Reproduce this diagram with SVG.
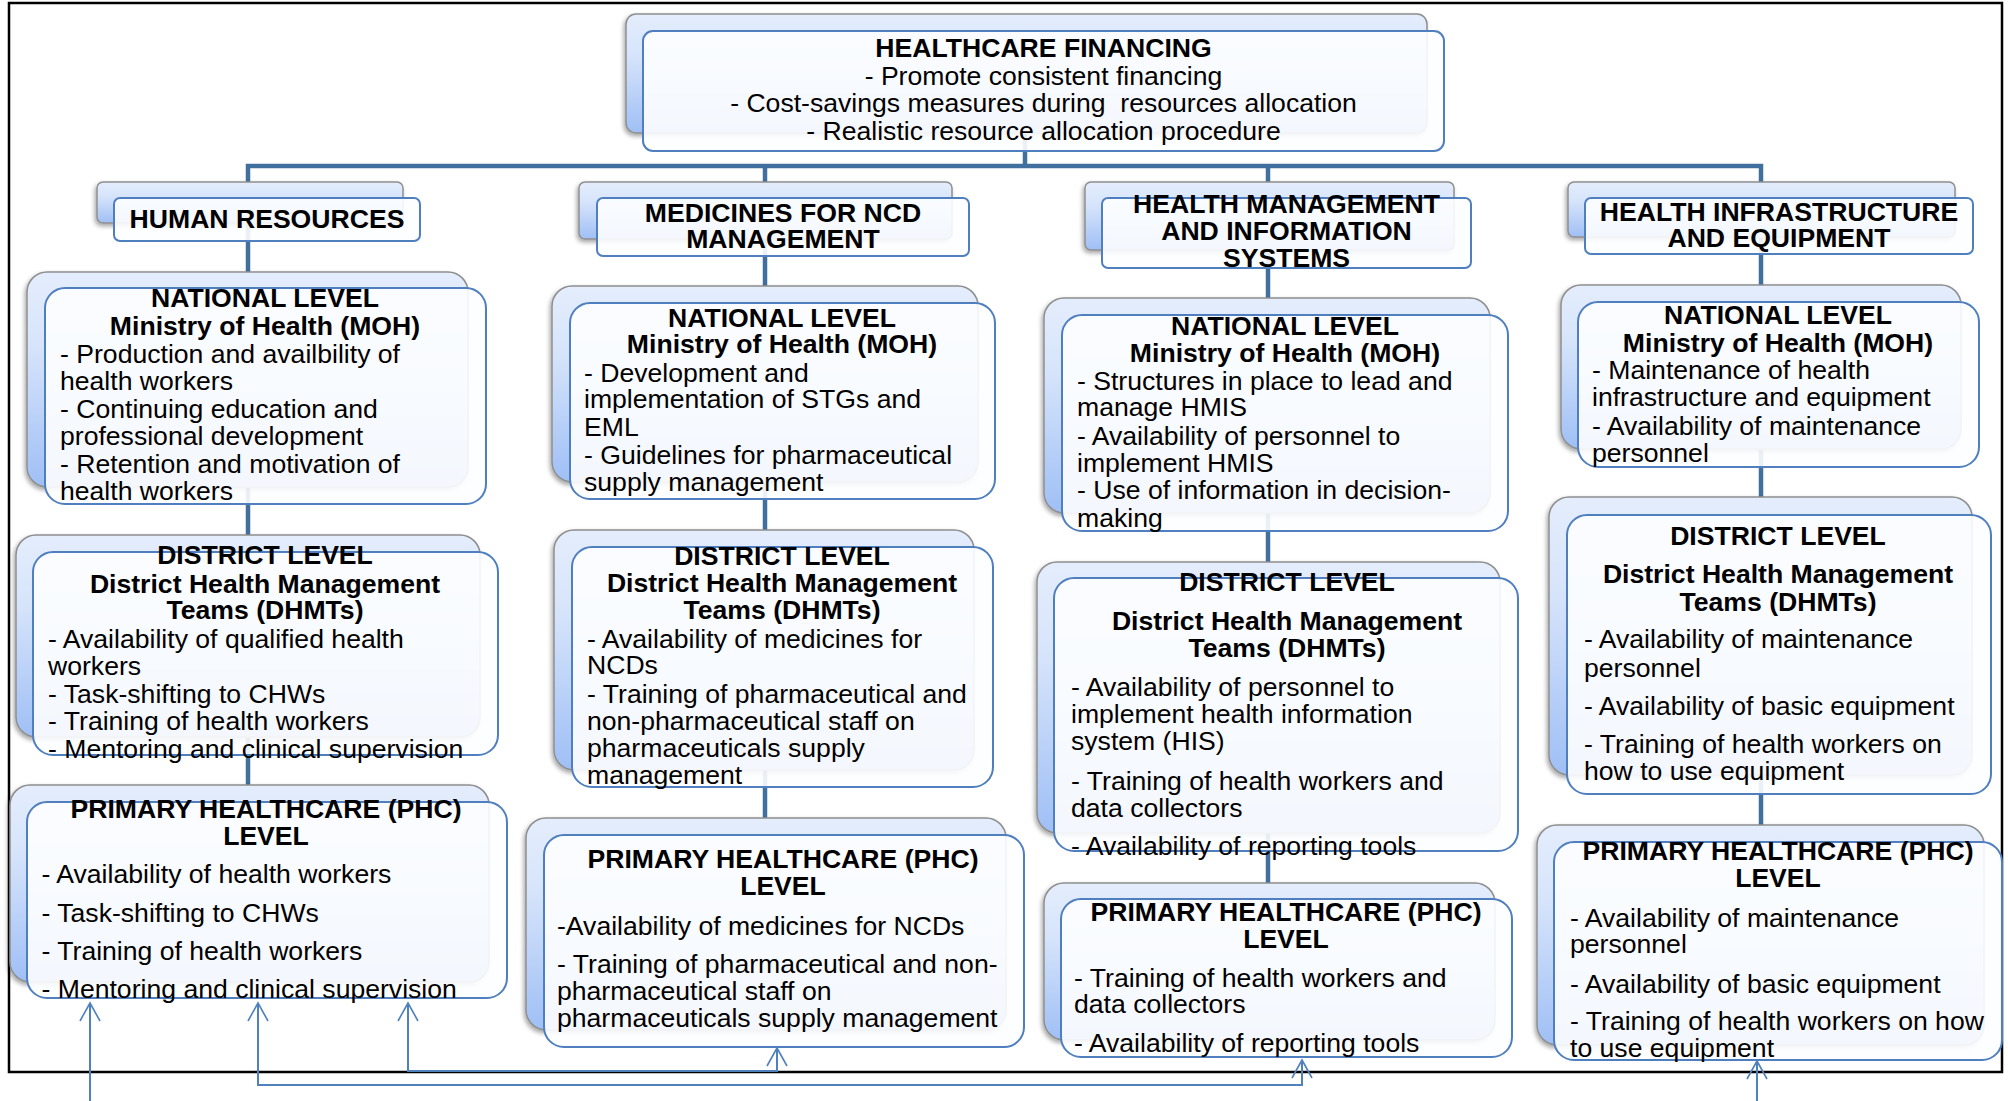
<svg xmlns="http://www.w3.org/2000/svg" width="2008" height="1101" viewBox="0 0 2008 1101">
<defs>
<linearGradient id="gb" x1="0" y1="0" x2="0" y2="1">
<stop offset="0" stop-color="#e4edfc"/>
<stop offset="0.35" stop-color="#d6e4fb"/>
<stop offset="1" stop-color="#9fbff5"/>
</linearGradient>
<filter id="sh" x="-10%" y="-10%" width="120%" height="130%">
<feDropShadow dx="-1.5" dy="2.5" stdDeviation="2" flood-color="#000" flood-opacity="0.35"/>
</filter>
<marker id="ah" markerUnits="userSpaceOnUse" viewBox="0 0 18 20" refX="18" refY="10" markerWidth="18" markerHeight="20" orient="auto-start-reverse" overflow="visible">
<path d="M0,0 L18,10 L0,20" fill="none" stroke="#4f81bd" stroke-width="1.6"/>
</marker>
</defs>
<style>
.back{fill:url(#gb);stroke:#8e8e8e;stroke-width:1.5;filter:url(#sh)}
.front{fill:#fdfeff;fill-opacity:0.9;stroke:#4f7fbf;stroke-width:2}
text{font-family:"Liberation Sans",Arial,sans-serif;font-size:26.6px;fill:#000}
.b{font-weight:bold}
.c{text-anchor:middle}
.conn{stroke:#41709f;stroke-width:4.5;fill:none}
.arr{stroke:#4f81bd;stroke-width:2;fill:none}
</style>
<rect x="0" y="0" width="2008" height="1101" fill="#fff"/>
<rect id="frame" x="9" y="3" width="1993" height="1069" fill="none" stroke="#000" stroke-width="2.5"/>

<g id="connectors">
<path class="conn" d="M1025,133 V166"/>
<path class="conn" d="M248,785 V166 H1761 V825"/>
<path class="conn" d="M765,166 V818"/>
<path class="conn" d="M1268,166 V883"/>
<path class="arr" d="M90,1101 V1003" marker-end="url(#ah)"/>
<path class="arr" d="M258,1003 V1085 H1302 V1060" marker-start="url(#ah)" marker-end="url(#ah)"/>
<path class="arr" d="M408,1003 V1071 H777 V1048" marker-start="url(#ah)" marker-end="url(#ah)"/>
<path class="arr" d="M1757,1101 V1061" marker-end="url(#ah)"/>
</g>

<g id="financing">
<rect class="back" x="626" y="14" width="801" height="119" rx="10"/>
<rect class="front" x="643" y="31" width="801" height="120" rx="10"/>
<text class="c" x="1043.5" y="57"><tspan class="b">HEALTHCARE FINANCING</tspan><tspan x="1043.5" y="84.5">- Promote consistent financing</tspan><tspan x="1043.5" y="112" style="white-space:pre">- Cost-savings measures during  resources allocation</tspan><tspan x="1043.5" y="139.5">- Realistic resource allocation procedure</tspan></text>
</g>

<g id="hr-header">
<rect class="back" x="97" y="182" width="306" height="41" rx="6"/>
<rect class="front" x="114" y="198" width="306" height="43" rx="6"/>
<text class="b c" x="267" y="228">HUMAN RESOURCES</text>
</g>
<g id="med-header">
<rect class="back" x="579" y="182" width="373" height="57" rx="6"/>
<rect class="front" x="597" y="198" width="372" height="58" rx="6"/>
<text class="b c" x="783" y="222">MEDICINES FOR NCD<tspan x="783" y="248">MANAGEMENT</tspan></text>
</g>
<g id="hmis-header">
<rect class="back" x="1085" y="182" width="369" height="68" rx="6"/>
<rect class="front" x="1102" y="198" width="369" height="70" rx="6"/>
<text class="b c" x="1286.5" y="213">HEALTH MANAGEMENT<tspan x="1286.5" y="240">AND INFORMATION</tspan><tspan x="1286.5" y="267">SYSTEMS</tspan></text>
</g>
<g id="infra-header">
<rect class="back" x="1568" y="182" width="387" height="55" rx="6"/>
<rect class="front" x="1585" y="198" width="388" height="56" rx="6"/>
<text class="b c" x="1779" y="221">HEALTH INFRASTRUCTURE<tspan x="1779" y="247">AND EQUIPMENT</tspan></text>
</g>

<g id="hr-national">
<rect class="back" x="27" y="272" width="441" height="215" rx="20"/>
<rect class="front" x="45" y="288" width="441" height="216" rx="20"/>
<text class="b c" x="265" y="307">NATIONAL LEVEL<tspan x="265" y="335">Ministry of Health (MOH)</tspan></text>
<text x="60" y="363">- Production and availbility of<tspan x="60" y="390">health workers</tspan><tspan x="60" y="418">- Continuing education and</tspan><tspan x="60" y="445">professional development</tspan><tspan x="60" y="473">- Retention and motivation of</tspan><tspan x="60" y="500">health workers</tspan></text>
</g>
<g id="med-national">
<rect class="back" x="552" y="286" width="426" height="196" rx="20"/>
<rect class="front" x="570" y="303" width="425" height="196" rx="20"/>
<text class="b c" x="782" y="327">NATIONAL LEVEL<tspan x="782" y="353">Ministry of Health (MOH)</tspan></text>
<text x="584" y="382">- Development and<tspan x="584" y="408">implementation of STGs and</tspan><tspan x="584" y="436">EML</tspan><tspan x="584" y="464">- Guidelines for pharmaceutical</tspan><tspan x="584" y="491">supply management</tspan></text>
</g>
<g id="hmis-national">
<rect class="back" x="1044" y="298" width="446" height="215" rx="20"/>
<rect class="front" x="1062" y="315" width="446" height="216" rx="20"/>
<text class="b c" x="1285" y="335">NATIONAL LEVEL<tspan x="1285" y="362">Ministry of Health (MOH)</tspan></text>
<text x="1077" y="390">- Structures in place to lead and<tspan x="1077" y="416">manage HMIS</tspan><tspan x="1077" y="445">- Availability of personnel to</tspan><tspan x="1077" y="472">implement HMIS</tspan><tspan x="1077" y="499">- Use of information in decision-</tspan><tspan x="1077" y="527">making</tspan></text>
</g>
<g id="infra-national">
<rect class="back" x="1561" y="285" width="400" height="164" rx="20"/>
<rect class="front" x="1578" y="302" width="401" height="165" rx="20"/>
<text class="b c" x="1778" y="324">NATIONAL LEVEL<tspan x="1778" y="352">Ministry of Health (MOH)</tspan></text>
<text x="1592" y="379">- Maintenance of health<tspan x="1592" y="406">infrastructure and equipment</tspan><tspan x="1592" y="435">- Availability of maintenance</tspan><tspan x="1592" y="462">personnel</tspan></text>
</g>

<g id="hr-district">
<rect class="back" x="16" y="535" width="464" height="202" rx="20"/>
<rect class="front" x="33" y="552" width="465" height="203" rx="20"/>
<text class="b c" x="265" y="564">DISTRICT LEVEL<tspan x="265" y="593">District Health Management</tspan><tspan x="265" y="619">Teams (DHMTs)</tspan></text>
<text x="48" y="648">- Availability of qualified health<tspan x="48" y="675">workers</tspan><tspan x="48" y="703">- Task-shifting to CHWs</tspan><tspan x="48" y="730">- Training of health workers</tspan><tspan x="48" y="758">- Mentoring and clinical supervision</tspan></text>
</g>
<g id="med-district">
<rect class="back" x="554" y="530" width="420" height="240" rx="20"/>
<rect class="front" x="572" y="547" width="421" height="240" rx="20"/>
<text class="b c" x="782" y="565">DISTRICT LEVEL<tspan x="782" y="592">District Health Management</tspan><tspan x="782" y="619">Teams (DHMTs)</tspan></text>
<text x="587" y="648">- Availability of medicines for<tspan x="587" y="674">NCDs</tspan><tspan x="587" y="703">- Training of pharmaceutical and</tspan><tspan x="587" y="730">non-pharmaceutical staff on</tspan><tspan x="587" y="757">pharmaceuticals supply</tspan><tspan x="587" y="784">management</tspan></text>
</g>
<g id="hmis-district">
<rect class="back" x="1037" y="562" width="463" height="271" rx="20"/>
<rect class="front" x="1054" y="578" width="464" height="273" rx="20"/>
<text class="b c" x="1287" y="591">DISTRICT LEVEL<tspan x="1287" y="630">District Health Management</tspan><tspan x="1287" y="657">Teams (DHMTs)</tspan></text>
<text x="1071" y="696">- Availability of personnel to<tspan x="1071" y="723">implement health information</tspan><tspan x="1071" y="750">system (HIS)</tspan><tspan x="1071" y="790">- Training of health workers and</tspan><tspan x="1071" y="817">data collectors</tspan><tspan x="1071" y="855">- Availability of reporting tools</tspan></text>
</g>
<g id="infra-district">
<rect class="back" x="1549" y="497" width="423" height="278" rx="20"/>
<rect class="front" x="1567" y="515" width="424" height="279" rx="20"/>
<text class="b c" x="1778" y="545">DISTRICT LEVEL<tspan x="1778" y="583">District Health Management</tspan><tspan x="1778" y="611">Teams (DHMTs)</tspan></text>
<text x="1584" y="648">- Availability of maintenance<tspan x="1584" y="677">personnel</tspan><tspan x="1584" y="715">- Availability of basic equipment</tspan><tspan x="1584" y="753">- Training of health workers on</tspan><tspan x="1584" y="780">how to use equipment</tspan></text>
</g>

<g id="hr-phc">
<rect class="back" x="10" y="785" width="479" height="197" rx="20"/>
<rect class="front" x="27" y="802" width="480" height="196" rx="20"/>
<text class="b c" x="266" y="818">PRIMARY HEALTHCARE (PHC)<tspan x="266" y="845">LEVEL</tspan></text>
<text x="41.5" y="883">- Availability of health workers<tspan x="41.5" y="922">- Task-shifting to CHWs</tspan><tspan x="41.5" y="960">- Training of health workers</tspan><tspan x="41.5" y="998">- Mentoring and clinical supervision</tspan></text>
</g>
<g id="med-phc">
<rect class="back" x="526" y="818" width="480" height="212" rx="20"/>
<rect class="front" x="544" y="835" width="480" height="212" rx="20"/>
<text class="b c" x="783" y="868">PRIMARY HEALTHCARE (PHC)<tspan x="783" y="895">LEVEL</tspan></text>
<text x="557" y="935">-Availability of medicines for NCDs<tspan x="557" y="973">- Training of pharmaceutical and non-</tspan><tspan x="557" y="1000">pharmaceutical staff on</tspan><tspan x="557" y="1027">pharmaceuticals supply management</tspan></text>
</g>
<g id="hmis-phc">
<rect class="back" x="1044" y="883" width="451" height="157" rx="20"/>
<rect class="front" x="1061" y="899" width="451" height="158" rx="20"/>
<text class="b c" x="1286" y="921">PRIMARY HEALTHCARE (PHC)<tspan x="1286" y="948">LEVEL</tspan></text>
<text x="1074" y="987">- Training of health workers and<tspan x="1074" y="1013">data collectors</tspan><tspan x="1074" y="1052">- Availability of reporting tools</tspan></text>
</g>
<g id="infra-phc">
<rect class="back" x="1537" y="825" width="447" height="220" rx="20"/>
<rect class="front" x="1554" y="842" width="448" height="218" rx="20"/>
<text class="b c" x="1778" y="860">PRIMARY HEALTHCARE (PHC)<tspan x="1778" y="887">LEVEL</tspan></text>
<text x="1570" y="927">- Availability of maintenance<tspan x="1570" y="953">personnel</tspan><tspan x="1570" y="993">- Availability of basic equipment</tspan><tspan x="1570" y="1030">- Training of health workers on how</tspan><tspan x="1570" y="1057">to use equipment</tspan></text>
</g>
</svg>
